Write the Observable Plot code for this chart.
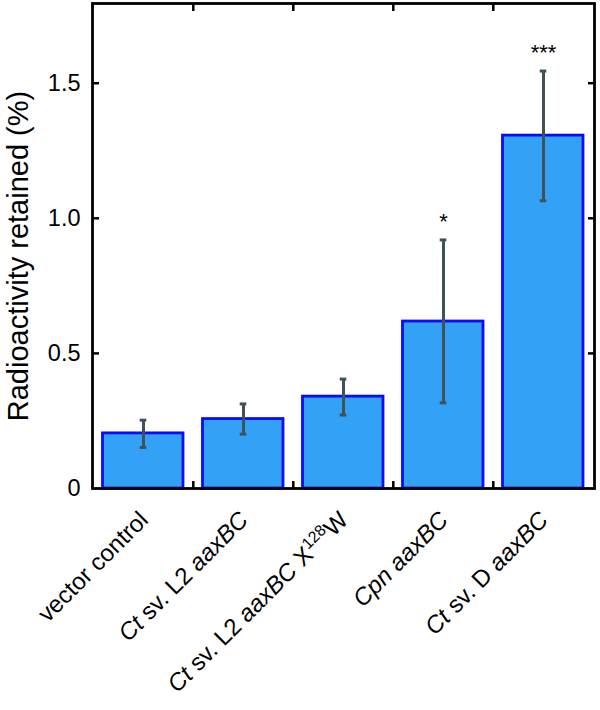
<!DOCTYPE html>
<html>
<head>
<meta charset="utf-8">
<script src="https://cdn.jsdelivr.net/npm/d3@7"></script>
<script src="https://cdn.jsdelivr.net/npm/@observablehq/plot@0.6"></script>
<style>
  html, body { margin: 0; padding: 0; background: #fff; }
  svg { font-family: "Liberation Sans", Arial, Helvetica, sans-serif; }
</style>
</head>
<body>
<div id="chart"></div>
<script>
// ---- data ----
const categories = ["vector control", "Ct sv. L2 aaxBC", "Ct sv. L2 aaxBC X128W", "Cpn aaxBC", "Ct sv. D aaxBC"];
const values   = [0.204, 0.257, 0.340, 0.618, 1.306];
const errLow   = [0.152, 0.201, 0.272, 0.317, 1.065];
const errHigh  = [0.253, 0.313, 0.405, 0.920, 1.545];
const stars    = ["", "", "", "*", "***"];
const yTicks   = [0, 0.5, 1.0, 1.5];
const yTitle   = "Radioactivity retained (%)";
// label parts: [text, style]  style: "i" italic, "n" normal, "s" superscript
const labelParts = [
  [["vector control", "n"]],
  [["Ct", "i"], [" sv. L2 ", "n"], ["aaxBC", "i"]],
  [["Ct", "i"], [" sv. L2 ", "n"], ["aaxBC", "i"], [" X", "n"], ["128", "s"], ["W", "n"]],
  [["Cpn", "i"], [" ", "n"], ["aaxBC", "i"]],
  [["Ct", "i"], [" sv. D ", "n"], ["aaxBC", "i"]]
];

const rows = categories.map((c, i) => ({cat: c, value: values[i], lo: errLow[i], hi: errHigh[i], star: stars[i], idx: i}));

const W = 600, H = 710;
const mL = 92, mR = 6, mT = 3, mB = 222;
const bw = (W - mL - mR) / categories.length;
const errColor = "#3e5258";

const chart = Plot.plot({
  width: W,
  height: H,
  marginLeft: mL,
  marginRight: mR,
  marginTop: mT,
  marginBottom: mB,
  style: {fontFamily: '"Liberation Sans", Arial, Helvetica, sans-serif', background: "#fff"},
  x: {domain: categories, type: "band", padding: 0},
  y: {domain: [0, 1.795]},
  marks: [
    Plot.barY(rows, {x: "cat", y: "value", fill: "#33a1f6", stroke: "#0a0aff", strokeWidth: 2.8, insetLeft: 9.5, insetRight: 10}),
    Plot.ruleX(rows, {x: "cat", y1: "lo", y2: "hi", stroke: errColor, strokeWidth: 3}),
    Plot.tickY(rows, {x: "cat", y: "lo", stroke: errColor, strokeWidth: 3, insetLeft: bw / 2 - 3.5, insetRight: bw / 2 - 3.5}),
    Plot.tickY(rows, {x: "cat", y: "hi", stroke: errColor, strokeWidth: 3, insetLeft: bw / 2 - 3.5, insetRight: bw / 2 - 3.5}),
    Plot.text(rows, {x: "cat", y: "hi", text: "star", lineAnchor: "bottom", dy: -11, fontSize: 22, fill: "black"}),
    // y tick labels
    Plot.axisY({ticks: yTicks, tickSize: 0, tickPadding: 12, fontSize: 23.5, fill: "black", label: null,
      tickFormat: d => d === 0 ? "0" : d.toFixed(1)}),
    // inward y ticks (left & right)
    Plot.axisY({ticks: yTicks.slice(1), tickSize: 7, dx: 7, text: null, label: null, strokeWidth: 2.5, stroke: "black"}),
    Plot.axisY({anchor: "right", ticks: yTicks.slice(1), tickSize: 7, dx: -7, text: null, label: null, strokeWidth: 2.5, stroke: "black"}),
    // inward x ticks at category boundaries (bottom & top)
    Plot.axisX({ticks: categories.slice(1), tickSize: 7, dx: -bw / 2, dy: -7, text: null, label: null, strokeWidth: 2.5, stroke: "black"}),
    Plot.axisX({anchor: "top", ticks: categories.slice(1), tickSize: 7, dx: -bw / 2, dy: 7, text: null, label: null, strokeWidth: 2.5, stroke: "black"}),
    // x labels (rotated), contents replaced with styled tspans below
    Plot.text(rows, {x: "cat", frameAnchor: "bottom", text: "cat", rotate: -45, textAnchor: "end", lineAnchor: "bottom",
      dx: 6, dy: 33, fontSize: 24, fill: "black", className: "xlab"}),
    // y title
    Plot.text([yTitle], {frameAnchor: "left", text: d => d, rotate: -90, textAnchor: "middle", lineAnchor: "bottom",
      dx: -65, dy: 10, fontSize: 29, fill: "black"}),
    Plot.frame({stroke: "black", strokeWidth: 2.8})
  ]
});

// style x labels with italic / superscript parts
d3.select(chart).selectAll("g.xlab text").each(function(d, i) {
  const t = d3.select(this);
  const parts = labelParts[i];
  t.text(null);
  let shifted = false;
  parts.forEach(([s, st]) => {
    const ts = t.append("tspan").text(s);
    if (st === "i") ts.attr("font-style", "italic");
    if (st === "s") { ts.attr("font-size", "16").attr("dy", "-9"); shifted = true; }
    else if (shifted) { ts.attr("dy", "9"); shifted = false; }
  });
});

document.getElementById("chart").appendChild(chart);
</script>
</body>
</html>
